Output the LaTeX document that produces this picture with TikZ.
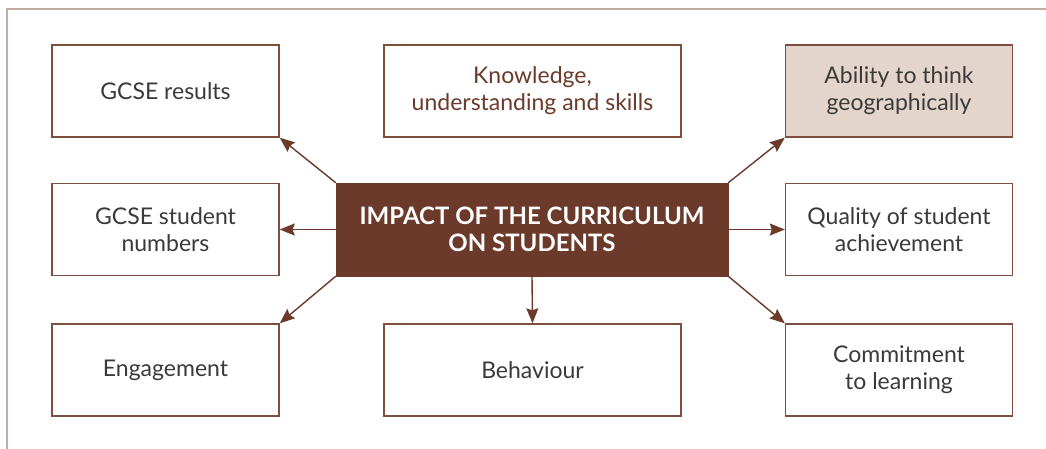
\documentclass[tikz,border=0pt]{standalone}
\usepackage{fontspec}
\setmainfont{Lato}
\usetikzlibrary{arrows.meta}
\definecolor{brownbox}{HTML}{6B3A2A}
\definecolor{boxline}{HTML}{7E4E3E}
\definecolor{frameline}{HTML}{C2ABA2}
\definecolor{tintfill}{HTML}{E3D5CC}
\definecolor{bodytext}{HTML}{3A3A3A}
\tikzset{
  box/.style={draw=boxline, line width=1.4pt, fill=white, minimum width=227pt,
    minimum height=92pt, align=center, text=bodytext, font=\fontsize{23}{27}\selectfont,
    inner sep=0pt},
  wide/.style={box, minimum width=297pt},
  hub/.style={fill=brownbox, draw=brownbox, minimum width=392pt, minimum height=93pt,
    align=center, text=white, font=\bfseries\fontsize{24}{27}\selectfont, inner sep=0pt},
  arr/.style={draw=brownbox, line width=1.4pt, -{Stealth[length=15pt,width=12pt,inset=2pt]}}
}
\begin{document}
\begin{tikzpicture}[x=1pt,y=-1pt]
  \useasboundingbox (0,0) rectangle (1046,448);
  % outer frame, only its top and left edges fall inside the page
  \draw[frameline, line width=1.5pt] (7,460) -- (7,9) -- (1060,9);

  \node[hub] (c) at (532,229.5) {IMPACT OF THE CURRICULUM\\ON STUDENTS};

  \node[box] (gr) at (165.5,91) {GCSE results};
  \node[wide, text=brownbox] (ku) at (532.5,91) {Knowledge,\\understanding and skills};
  \node[box, fill=tintfill] (ab) at (899,91) {Ability to think\\geographically};

  \node[box] (gn) at (165.5,229.5) {GCSE student\\numbers};
  \node[box] (qa) at (899,229.5) {Quality of student\\achievement};

  \node[box] (en) at (165.5,370) {Engagement};
  \node[wide] (be) at (532.5,370) {Behaviour};
  \node[box] (cl) at (899,370) {Commitment\\to learning};

  \draw[arr] (c.north west) -- (gr.south east);
  \draw[arr] (c.west) -- (gn.east);
  \draw[arr] (c.south west) -- (en.north east);
  \draw[arr] (c.south) -- (be.north);
  \draw[arr] (c.north east) -- (ab.south west);
  \draw[arr] (c.east) -- (qa.west);
  \draw[arr] (c.south east) -- (cl.north west);
\end{tikzpicture}
\end{document}
